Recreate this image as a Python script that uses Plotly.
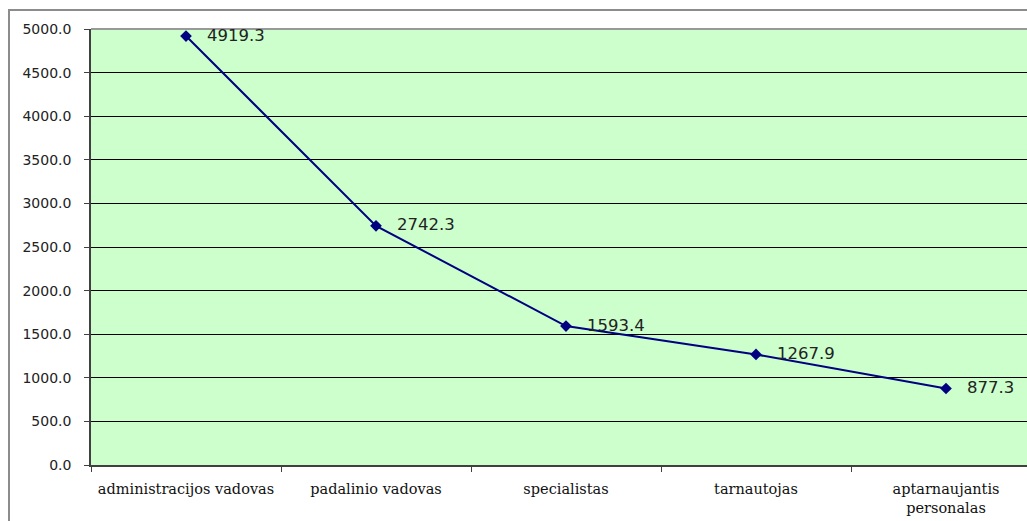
import plotly.graph_objects as go

categories = ["administracijos vadovas", "padalinio vadovas", "specialistas",
              "tarnautojas", "aptarnaujantis<br>personalas"]
values = [4919.3, 2742.3, 1593.4, 1267.9, 877.3]
y_ticks = [0, 500, 1000, 1500, 2000, 2500, 3000, 3500, 4000, 4500, 5000]

W, H = 1027, 521
L, R, T, B = 91, 0, 29, 56
pw, ph = W - L - R, H - T - B

fig = go.Figure()
fig.add_trace(go.Scatter(
    x=categories, y=values, mode="lines+markers",
    line=dict(color="#000080", width=2),
    marker=dict(symbol="diamond", size=9, color="#000080"),
    hoverinfo="skip", showlegend=False,
))

for c, v in zip(categories, values):
    fig.add_annotation(x=c, y=v, text=f"{v:.1f}", showarrow=False,
                       xanchor="left", yanchor="middle", xshift=19, yshift=1,
                       font=dict(family="DejaVu Sans", size=16.5, color="#222"))

# outer chart border
fig.add_shape(type="rect", xref="paper", yref="paper",
              x0=(9 - L) / pw, x1=1.2, y0=-0.3, y1=(H - B - 10) / ph,
              line=dict(color="#8c8c8c", width=2), layer="below")
# plot area top border
fig.add_shape(type="line", xref="paper", yref="paper",
              x0=0, x1=1, y0=1, y1=1,
              line=dict(color="#999999", width=2), layer="above")

fig.update_layout(
    width=W, height=H,
    margin=dict(l=L, r=R, t=T, b=B, pad=0, autoexpand=False),
    paper_bgcolor="white", plot_bgcolor="#CCFFCC",
    xaxis=dict(type="category", range=[-0.5, -0.5 + pw / 190],
               showgrid=False, showline=True, linecolor="#404040", linewidth=1.5,
               ticks="outside", tickson="boundaries", ticklen=5, tickcolor="#404040",
               ticklabelstandoff=10, tickangle=0, automargin=False,
               tickfont=dict(family="DejaVu Serif", size=14.5, color="#111"),
               fixedrange=True),
    yaxis=dict(range=[0, 5000], tickvals=y_ticks,
               ticktext=[f"{t:.1f}" for t in y_ticks],
               showgrid=True, gridcolor="#000000", gridwidth=1,
               showline=True, linecolor="#404040", linewidth=1.5,
               ticks="outside", ticklen=5, tickcolor="#404040",
               ticklabelstandoff=10, zeroline=False, automargin=False,
               tickfont=dict(family="DejaVu Sans", size=14, color="#222"),
               fixedrange=True),
)

fig.write_html("out.html", config={"displayModeBar": False},
               post_script="document.body.style.margin='0';document.body.style.overflow='hidden';")
